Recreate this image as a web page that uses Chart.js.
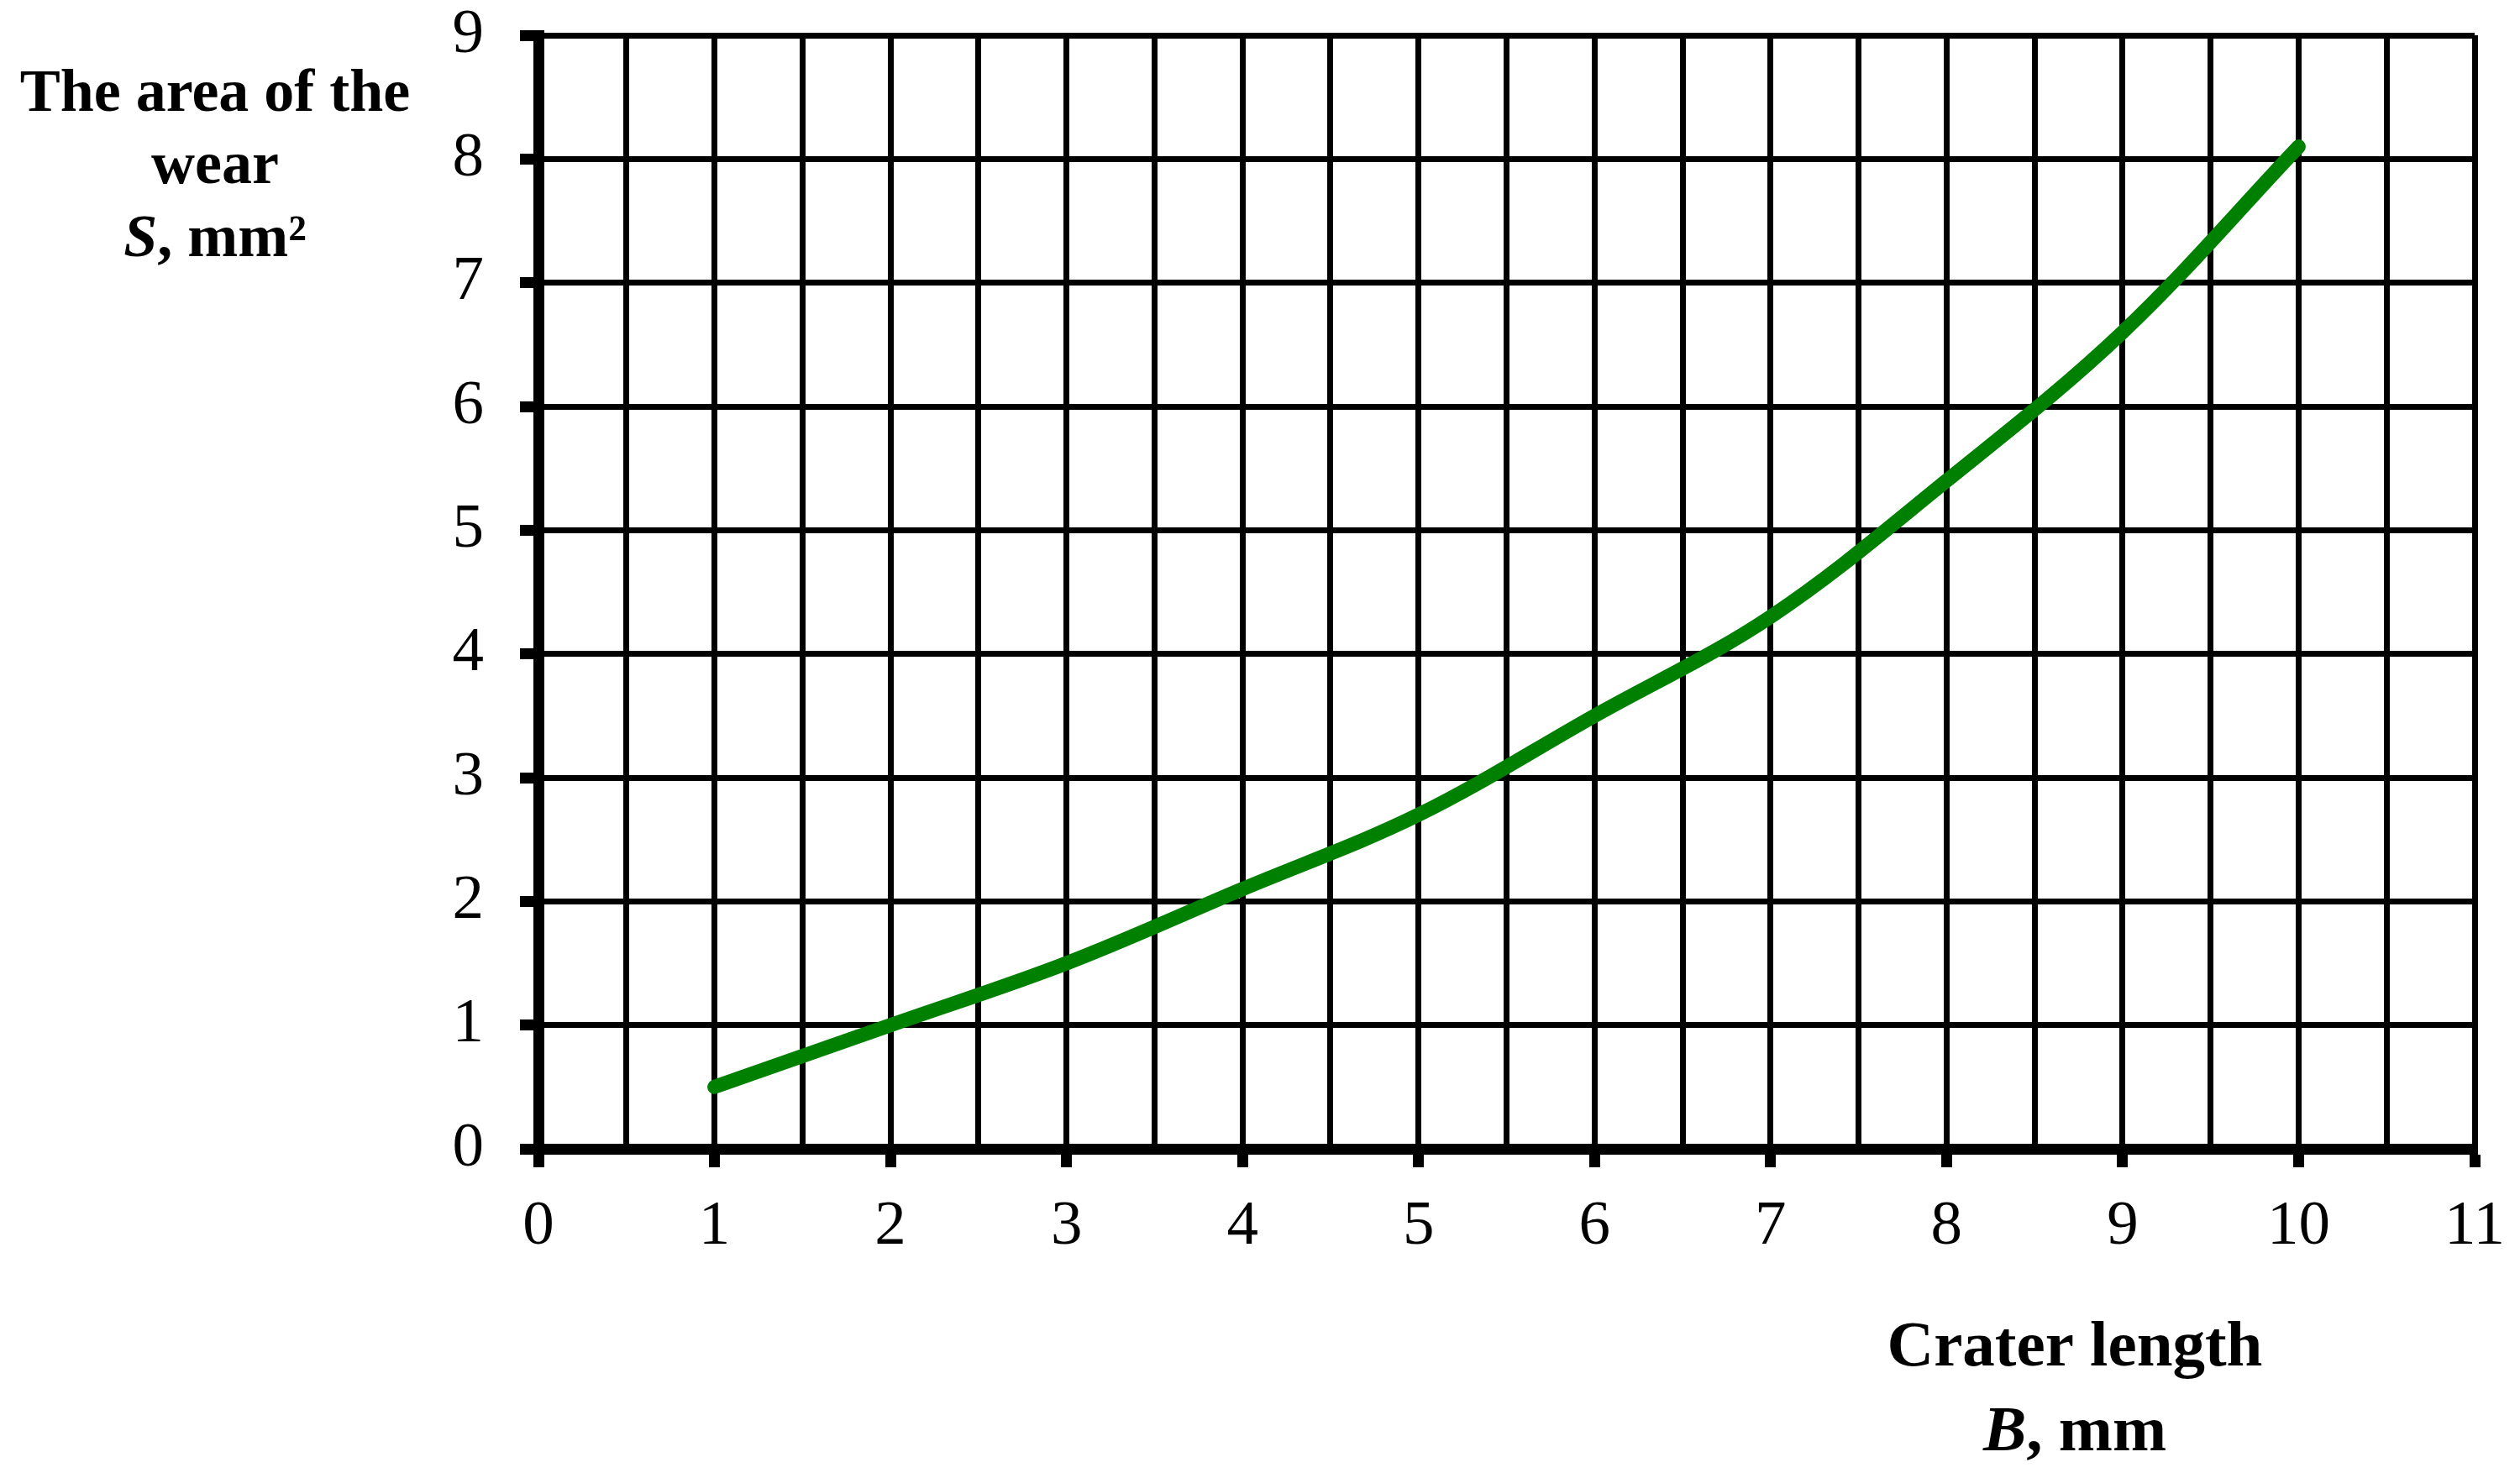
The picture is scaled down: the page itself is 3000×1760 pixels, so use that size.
<!DOCTYPE html>
<html>
<head>
<meta charset="utf-8">
<title>Wear area vs crater length</title>
<script src="https://cdn.jsdelivr.net/npm/chart.js@4.4.1/dist/chart.umd.min.js"></script>
<style>
    html, body { margin: 0; padding: 0; background: #fff; }
    #wearChart { display: block; }
</style>
</head>
<body>
<canvas id="wearChart" width="3000" height="1760"></canvas>
<script>
// values
const craterLength = [1, 2, 3, 4, 5, 6, 7, 8, 9, 10];
const wearArea = [0.5, 1.0, 1.5, 2.1, 2.7, 3.5, 4.3, 5.4, 6.6, 8.1];
const xTickValues = [0, 1, 2, 3, 4, 5, 6, 7, 8, 9, 10, 11];
const yTickValues = [0, 1, 2, 3, 4, 5, 6, 7, 8, 9];

const yTitleLines = [
    [{ text: 'The area of the', style: 'bold' }],
    [{ text: 'wear', style: 'bold' }],
    [{ text: 'S', style: 'italic bold' }, { text: ', mm²', style: 'bold' }]
];
const xTitleLines = [
    [{ text: 'Crater length', style: 'bold' }],
    [{ text: 'B', style: 'italic bold' }, { text: ', mm', style: 'bold' }]
];

const SERIF = '"Liberation Serif", "Times New Roman", serif';

function drawRichLine(ctx, parts, cx, baseline, size) {
    let total = 0;
    const widths = parts.map(p => {
        ctx.font = `${p.style} ${size}px ${SERIF}`;
        const w = ctx.measureText(p.text).width;
        total += w;
        return w;
    });
    let x = cx - total / 2;
    parts.forEach((p, i) => {
        ctx.font = `${p.style} ${size}px ${SERIF}`;
        ctx.fillText(p.text, x, baseline);
        x += widths[i];
    });
}

const axisTitles = {
    id: 'axisTitles',
    afterDraw(chart) {
        const ctx = chart.ctx;
        ctx.save();
        ctx.fillStyle = '#000';
        ctx.textAlign = 'left';
        ctx.textBaseline = 'alphabetic';
        const yBase = [132, 218, 305];
        yTitleLines.forEach((line, i) => drawRichLine(ctx, line, 256, yBase[i], 72));
        const xBase = [1626, 1727];
        xTitleLines.forEach((line, i) => drawRichLine(ctx, line, 2470, xBase[i], 77));
        ctx.restore();
    }
};

const isMajor = v => Math.abs(v - Math.round(v)) < 1e-6;

new Chart(document.getElementById('wearChart'), {
    type: 'line',
    data: {
        datasets: [{
            data: craterLength.map((b, i) => ({ x: b, y: wearArea[i] })),
            borderColor: '#008000',
            borderWidth: 17,
            borderCapStyle: 'round',
            borderJoinStyle: 'round',
            pointRadius: 0,
            fill: false,
            tension: 0.35
        }]
    },
    options: {
        responsive: false,
        devicePixelRatio: 1,
        animation: false,
        layout: { padding: { top: 42, right: 54, left: 0, bottom: 0 } },
        plugins: {
            legend: { display: false },
            tooltip: { enabled: false }
        },
        scales: {
            x: {
                type: 'linear',
                min: 0,
                max: 11,
                afterBuildTicks(scale) {
                    const ticks = [];
                    xTickValues.forEach((v, i) => {
                        ticks.push({ value: v });
                        if (i < xTickValues.length - 1) ticks.push({ value: v + 0.5 });
                    });
                    scale.ticks = ticks;
                },
                afterFit(scale) {
                    scale.height = 392;
                    scale.paddingLeft = 0;
                    scale.paddingRight = 0;
                },
                grid: {
                    color: '#000',
                    lineWidth: 7,
                    tickLength: 22,
                    tickWidth: 13,
                    tickColor: c => (c.tick && isMajor(c.tick.value)) ? '#000' : 'rgba(0,0,0,0)'
                },
                border: { display: true, color: '#000', width: 13 },
                ticks: {
                    color: '#000',
                    padding: 34,
                    maxRotation: 0,
                    autoSkip: false,
                    font: { family: SERIF, size: 75, lineHeight: 1 },
                    callback: v => isMajor(v) ? String(Math.round(v)) : ''
                }
            },
            y: {
                type: 'linear',
                min: 0,
                max: 9,
                afterBuildTicks(scale) {
                    scale.ticks = yTickValues.map(v => ({ value: v }));
                },
                afterFit(scale) {
                    scale.width = 641;
                    scale.paddingTop = 0;
                    scale.paddingBottom = 0;
                },
                grid: {
                    color: '#000',
                    lineWidth: 7,
                    tickLength: 22,
                    tickWidth: 13,
                    tickColor: '#000'
                },
                border: { display: true, color: '#000', width: 13 },
                ticks: {
                    color: '#000',
                    padding: 43,
                    autoSkip: false,
                    font: { family: SERIF, size: 75, lineHeight: 1 },
                    callback: v => String(v)
                }
            }
        }
    },
    plugins: [axisTitles]
});
</script>
</body>
</html>
